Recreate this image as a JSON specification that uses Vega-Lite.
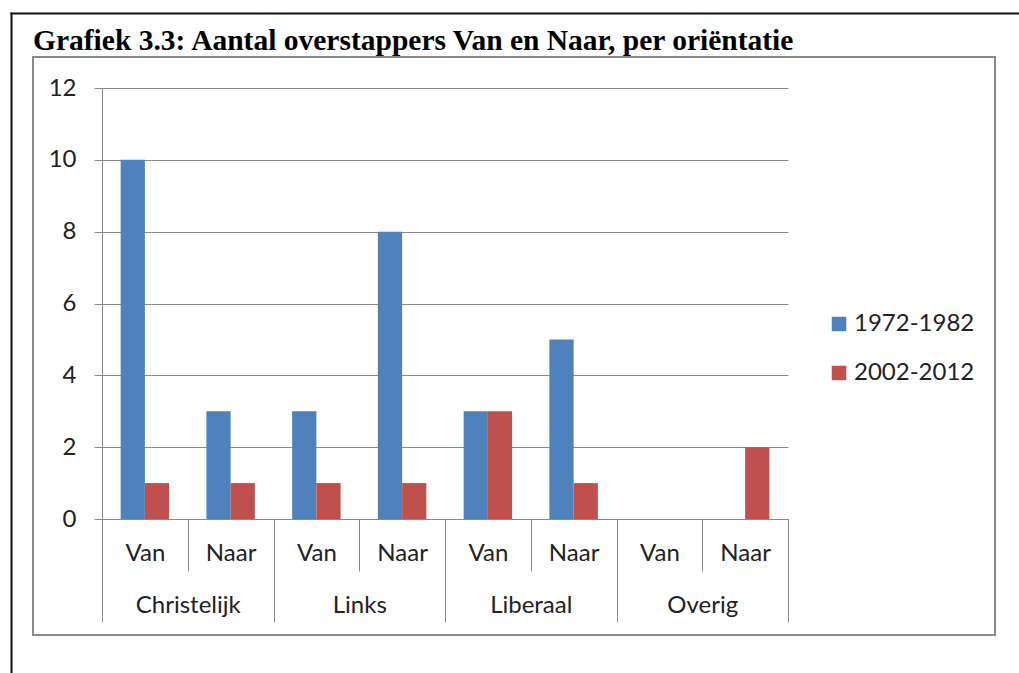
{
  "$schema": "https://vega.github.io/schema/vega-lite/v6.json",
  "width": 962,
  "height": 578,
  "autosize": {"type": "none"},
  "padding": {"left": 33, "top": 57, "right": 24, "bottom": 38},
  "background": "white",
  "title": {
    "text": "Grafiek 3.3: Aantal overstappers Van en Naar, per oriëntatie",
    "anchor": "start",
    "frame": "group",
    "font": "Liberation Serif",
    "fontSize": 29.5,
    "fontWeight": "bold",
    "color": "#000000",
    "baseline": "alphabetic",
    "offset": -70
  },
  "config": {
    "view": {"stroke": "#8a8a8a", "strokeWidth": 2},
    "font": "Lato",
    "axis": {"labelFont": "Lato", "labelColor": "#222222", "labelFontSize": 24, "titleFont": "Lato"}
  },
  "resolve": {"scale": {"x": "independent", "y": "independent"}},
  "layer": [
    {
      "data": {
        "values": [
          {"group": "Christelijk", "sub": "Van", "key": "Christelijk|Van", "series": "1972-1982", "value": 10},
          {"group": "Christelijk", "sub": "Van", "key": "Christelijk|Van", "series": "2002-2012", "value": 1},
          {"group": "Christelijk", "sub": "Naar", "key": "Christelijk|Naar", "series": "1972-1982", "value": 3},
          {"group": "Christelijk", "sub": "Naar", "key": "Christelijk|Naar", "series": "2002-2012", "value": 1},
          {"group": "Links", "sub": "Van", "key": "Links|Van", "series": "1972-1982", "value": 3},
          {"group": "Links", "sub": "Van", "key": "Links|Van", "series": "2002-2012", "value": 1},
          {"group": "Links", "sub": "Naar", "key": "Links|Naar", "series": "1972-1982", "value": 8},
          {"group": "Links", "sub": "Naar", "key": "Links|Naar", "series": "2002-2012", "value": 1},
          {"group": "Liberaal", "sub": "Van", "key": "Liberaal|Van", "series": "1972-1982", "value": 3},
          {"group": "Liberaal", "sub": "Van", "key": "Liberaal|Van", "series": "2002-2012", "value": 3},
          {"group": "Liberaal", "sub": "Naar", "key": "Liberaal|Naar", "series": "1972-1982", "value": 5},
          {"group": "Liberaal", "sub": "Naar", "key": "Liberaal|Naar", "series": "2002-2012", "value": 1},
          {"group": "Overig", "sub": "Van", "key": "Overig|Van", "series": "1972-1982", "value": 0},
          {"group": "Overig", "sub": "Van", "key": "Overig|Van", "series": "2002-2012", "value": 0},
          {"group": "Overig", "sub": "Naar", "key": "Overig|Naar", "series": "1972-1982", "value": 0},
          {"group": "Overig", "sub": "Naar", "key": "Overig|Naar", "series": "2002-2012", "value": 2}
        ]
      },
      "mark": {"type": "bar"},
      "encoding": {
        "x": {
          "field": "key",
          "type": "nominal",
          "scale": {
            "domain": ["Christelijk|Van", "Christelijk|Naar", "Links|Van", "Links|Naar", "Liberaal|Van", "Liberaal|Naar", "Overig|Van", "Overig|Naar"],
            "range": [69, 755],
            "paddingInner": 0,
            "paddingOuter": 0
          },
          "axis": {
            "orient": "bottom",
            "offset": -116,
            "title": null,
            "labelAngle": 0,
            "labelExpr": "split(datum.value, '|')[1]",
            "domain": true,
            "domainColor": "#8a8a8a",
            "domainWidth": 1,
            "ticks": true,
            "tickBand": "extent",
            "tickSize": 52,
            "tickColor": "#8a8a8a",
            "labelPadding": -30,
            "grid": false
          }
        },
        "xOffset": {
          "field": "series",
          "type": "nominal",
          "scale": {"paddingInner": 0, "paddingOuter": 0.77}
        },
        "y": {
          "field": "value",
          "type": "quantitative",
          "scale": {"domain": [0, 12], "range": [462, 31], "nice": false, "zero": true},
          "axis": {
            "orient": "left",
            "offset": -69,
            "title": null,
            "values": [0, 2, 4, 6, 8, 10, 12],
            "domain": true,
            "domainColor": "#8a8a8a",
            "ticks": true,
            "tickSize": 8,
            "tickColor": "#8a8a8a",
            "labelPadding": 18,
            "grid": true,
            "gridColor": "#8a8a8a",
            "gridWidth": 1
          }
        },
        "color": {
          "field": "series",
          "type": "nominal",
          "scale": {"domain": ["1972-1982", "2002-2012"], "range": ["#4F81BD", "#C0504D"]},
          "legend": {
            "orient": "none",
            "legendX": 794,
            "legendY": 255,
            "title": null,
            "symbolType": "square",
            "symbolSize": 210,
            "symbolStrokeWidth": 0,
            "labelFont": "Lato",
            "labelFontSize": 24,
            "labelColor": "#222222",
            "labelOffset": 3,
            "rowPadding": 25,
            "padding": 0
          }
        }
      }
    },
    {
      "data": {
        "values": [
          {"group": "Christelijk"},
          {"group": "Links"},
          {"group": "Liberaal"},
          {"group": "Overig"}
        ]
      },
      "mark": {"type": "point", "opacity": 0},
      "encoding": {
        "x": {
          "field": "group",
          "type": "nominal",
          "scale": {
            "domain": ["Christelijk", "Links", "Liberaal", "Overig"],
            "range": [69, 755],
            "paddingInner": 0,
            "paddingOuter": 0
          },
          "axis": {
            "orient": "bottom",
            "offset": -116,
            "title": null,
            "labelAngle": 0,
            "domain": false,
            "ticks": true,
            "tickBand": "extent",
            "tickSize": 103,
            "tickColor": "#8a8a8a",
            "labelPadding": -29,
            "grid": false
          }
        }
      }
    },
    {
      "data": {"values": [{"f": 0}, {"f": 1}]},
      "mark": {"type": "point", "opacity": 0},
      "encoding": {
        "x": {
          "field": "f",
          "type": "quantitative",
          "scale": {"domain": [0, 1], "range": [-23, 990], "nice": false, "zero": false},
          "axis": {
            "orient": "top",
            "offset": 44,
            "title": null,
            "labels": false,
            "ticks": false,
            "grid": false,
            "domain": true,
            "domainColor": "#111111",
            "domainWidth": 2
          }
        },
        "y": {
          "field": "f",
          "type": "quantitative",
          "scale": {"domain": [0, 1], "range": [620, -45], "nice": false, "zero": false},
          "axis": {
            "orient": "left",
            "offset": 22,
            "title": null,
            "labels": false,
            "ticks": false,
            "grid": false,
            "domain": true,
            "domainColor": "#111111",
            "domainWidth": 2
          }
        }
      }
    }
  ]
}
